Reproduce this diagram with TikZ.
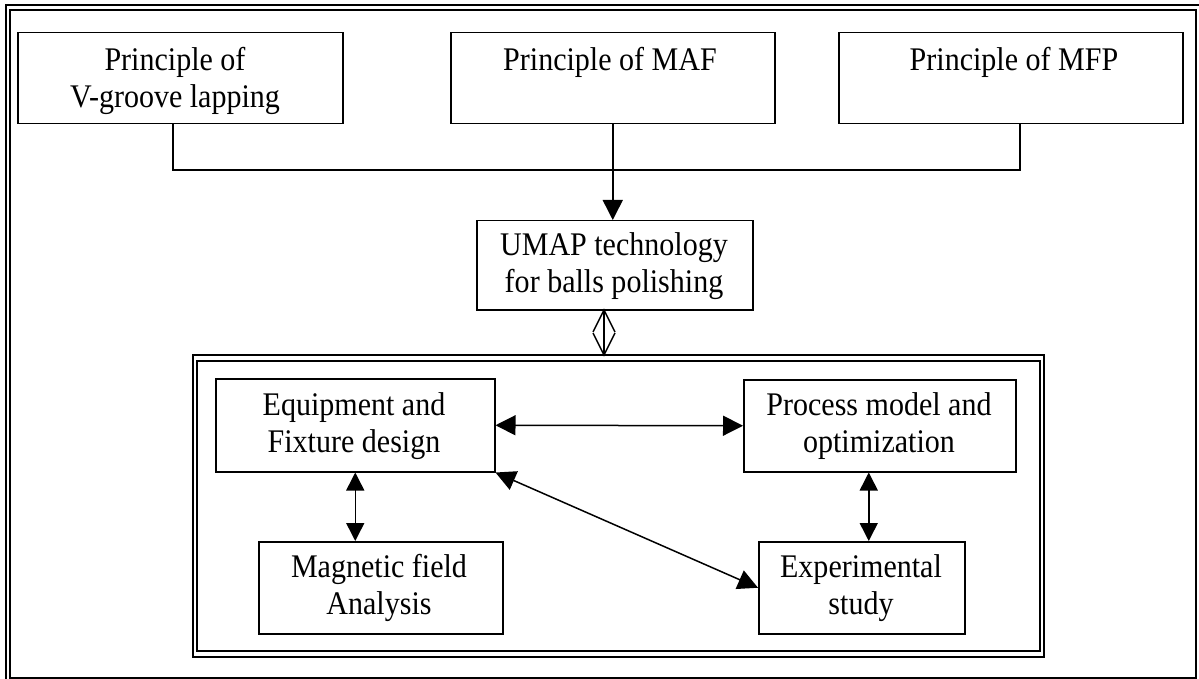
\documentclass[tikz,border=0pt]{standalone}
\usepackage{fontspec}
\setmainfont{Liberation Serif}[FakeStretch=0.91]
\usetikzlibrary{arrows.meta,calc}

\begin{document}
\begin{tikzpicture}[x=0.5pt,y=-0.5pt,
  box/.style={draw, line width=0.75pt, inner sep=0pt, anchor=north west},
  lbl/.style={font=\fontsize{16.5}{18.5}\selectfont, align=center, inner sep=0pt},
  link/.style={line width=0.75pt},
  tip/.style={link, -{Triangle[length=10pt,width=10pt]}},
  dtip/.style={link, {Triangle[length=10pt,width=10pt]}-{Triangle[length=10pt,width=10pt]}},
  vtip/.style={link, {Triangle[length=9pt,width=9pt]}-{Triangle[length=9pt,width=9pt]}},
]
\useasboundingbox (0,0) rectangle (1199,679);
\clip (0,0) rectangle (1199,679);

% page frame (double rule)
\draw[line width=1pt] (6,5) rectangle (1202,683);
\draw[line width=1pt] (10,10) rectangle (1196,678);

% principles
\node[box, minimum width=162.5pt, minimum height=45.5pt] (b1) at (17,32) {};
\node[box, minimum width=162pt,   minimum height=45.5pt] (b2) at (450,32) {};
\node[box, minimum width=172pt,   minimum height=45.5pt] (b3) at (838,32) {};
\node[lbl] (t1) at (175,81) {Principle of\\V-groove lapping};
\node[lbl] (t2) at (610,62) {Principle of MAF};
\node[lbl] (t3) at (1014,62) {Principle of MFP};

% technology
\node[box, minimum width=138pt, minimum height=44.5pt] (umap) at (476,220) {};
\node[lbl] (tu) at (614,266) {UMAP technology\\for balls polishing};

\coordinate (join) at (612,170);
\draw[link] (b1.south -| 173,0) |- (join) -| (b3.south -| 1020,0);
\draw[tip] (b2.south) -- (b2.south |- umap.north);

% research group (triple-ruled frame)
\coordinate (g1) at (193,355);
\coordinate (g2) at (1044,657);
\draw[line width=1.25pt] (g1) rectangle (g2);
\draw[line width=0.75pt] ($(g1)+(4,6)$) rectangle ($(g2)+(-4,-6)$);

% hollow two-way arrow
\coordinate (ha) at (604,310);
\coordinate (hb) at (604,355);
\draw[link] (ha) -- (hb);
\draw[link] ($(ha)+(-11,22)$) -- (ha) -- ($(ha)+(11,22)$);
\draw[link] ($(hb)+(-11,-22)$) -- (hb) -- ($(hb)+(11,-22)$);

% work packages
\node[box, minimum width=139.5pt, minimum height=46.5pt] (eq)   at (215,378) {};
\node[box, minimum width=136pt,   minimum height=46pt]   (proc) at (743,379) {};
\node[box, minimum width=122pt,   minimum height=46pt]   (mag)  at (258,541) {};
\node[box, minimum width=103pt,   minimum height=46pt]   (exp)  at (758,541) {};
\node[lbl] (te) at (354,426) {Equipment and\\Fixture design};
\node[lbl] (tp) at (879,426) {Process model and\\optimization};
\node[lbl] (tm) at (379,588) {Magnetic field\\Analysis};
\node[lbl] (tx) at (861,588) {Experimental\\study};

\coordinate (pe) at ($(exp.north)+(7,0)$);
\draw[dtip] (eq.east) -- (proc.west);
\draw[vtip] (eq.south) -- (eq.south |- mag.north);
\draw[vtip] (pe |- proc.south) -- (pe);
\draw[dtip] (eq.south east) -- (exp.west);
\end{tikzpicture}
\end{document}
